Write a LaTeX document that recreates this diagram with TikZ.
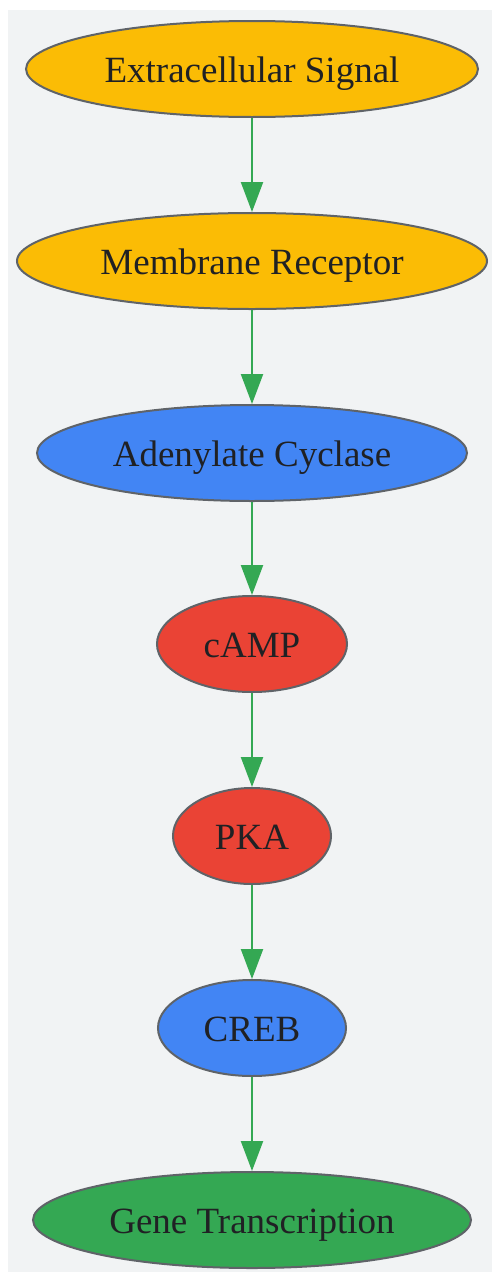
\documentclass[tikz,border=0pt]{standalone}
\usepackage{fontspec}
\setmainfont{Liberation Serif}
\usetikzlibrary{shapes.geometric,arrows.meta}
\definecolor{bgc}{HTML}{F1F3F4}
\definecolor{yel}{HTML}{FBBC05}
\definecolor{blu}{HTML}{4285F4}
\definecolor{rdc}{HTML}{EA4335}
\definecolor{grn}{HTML}{34A853}
\definecolor{bord}{HTML}{5F6368}
\definecolor{txt}{HTML}{202124}
\tikzset{
  ell/.style={ellipse, draw=bord, line width=2pt, inner sep=0pt, minimum height=96pt,
    text=txt, font=\fontsize{37}{40}\selectfont, text height=36pt, text depth=10pt},
  conn/.style={draw=grn, line width=2.2pt, -{Triangle[length=30pt,width=22pt]}}
}
\begin{document}
\begin{tikzpicture}[x=1pt,y=1pt]
\useasboundingbox (0,0) rectangle (492,-1272);
\fill[bgc] (8,-10) rectangle (492,-1272);
\node[ell, fill=yel, minimum width=452pt] (a) at (252,-69) {Extracellular Signal};
\node[ell, fill=yel, minimum width=470pt] (b) at (252,-261) {Membrane Receptor};
\node[ell, fill=blu, minimum width=430pt] (c) at (252,-453) {Adenylate Cyclase};
\node[ell, fill=rdc, minimum width=190pt] (d) at (252,-644) {cAMP};
\node[ell, fill=rdc, minimum width=158pt] (e) at (252,-836) {PKA};
\node[ell, fill=blu, minimum width=188pt] (f) at (252,-1028) {CREB};
\node[ell, fill=grn, minimum width=438pt] (g) at (252,-1220) {Gene Transcription};
\draw[conn] (a) -- (b);
\draw[conn] (b) -- (c);
\draw[conn] (c) -- (d);
\draw[conn] (d) -- (e);
\draw[conn] (e) -- (f);
\draw[conn] (f) -- (g);
\end{tikzpicture}
\end{document}
